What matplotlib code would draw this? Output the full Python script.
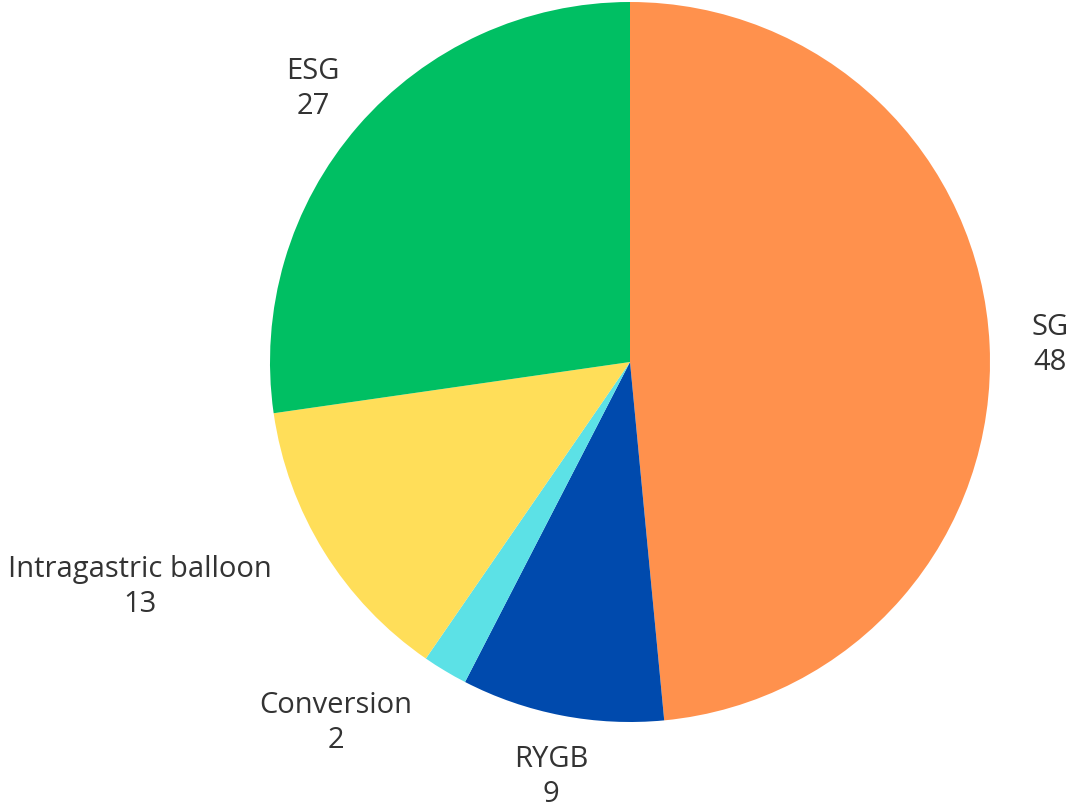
import matplotlib
matplotlib.use("Agg")
import matplotlib.pyplot as plt
import numpy as np

# Procedure counts
categories = ["SG", "RYGB", "Conversion", "Intragastric balloon", "ESG"]
values = [48, 9, 2, 13, 27]
colors = ["#FF914D", "#004AAD", "#5CE1E6", "#FFDE59", "#00BF63"]

# Label anchor positions (figure pixels, y measured from the top)
label_pos = {
    "SG": (1050, 345),
    "RYGB": (551, 777),
    "Conversion": (336, 723),
    "Intragastric balloon": (140, 587),
    "ESG": (313, 89),
}

W, H = 1071, 811
fig = plt.figure(figsize=(W / 100, H / 100), dpi=100)
ax = fig.add_axes([0, 0, 1, 1])
ax.set_xlim(0, W)
ax.set_ylim(0, H)
ax.set_aspect("equal")
ax.axis("off")

center = (630, H - 362)
radius = 360

wedges, texts = ax.pie(
    values,
    colors=colors,
    startangle=90,
    counterclock=False,
    center=center,
    radius=radius,
    labels=[f"{c}\n{v}" for c, v in zip(categories, values)],
    wedgeprops=dict(linewidth=0),
    textprops=dict(fontsize=21, color="#333333", family="Open Sans",
                   linespacing=1.25),
)
ax.set_xlim(0, W)
ax.set_ylim(0, H)

for t, c in zip(texts, categories):
    x, y = label_pos[c]
    t.set_position((x, H - y))
    t.set_ha("center")
    t.set_va("center")
    t.set_multialignment("center")

fig.savefig("out.png", dpi=100, facecolor="white")
